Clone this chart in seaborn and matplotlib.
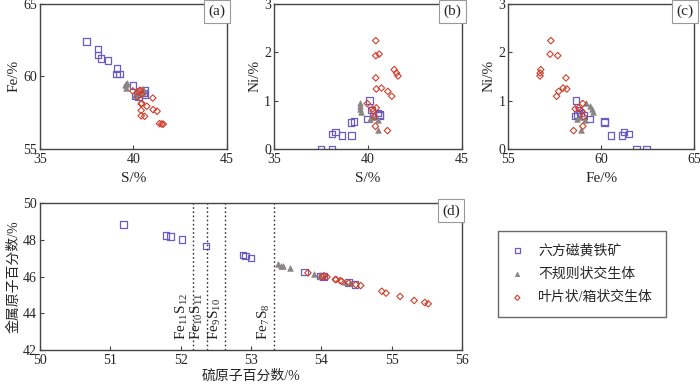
import numpy as np
import pandas as pd
import seaborn as sns
import matplotlib
matplotlib.use('Agg')
import matplotlib.pyplot as plt

sns.set_style('ticks')
plt.rcParams['font.family'] = ['Liberation Serif', 'Noto Sans CJK SC']
plt.rcParams['mathtext.fontset'] = 'custom'
plt.rcParams['mathtext.rm'] = 'Liberation Serif'
plt.rcParams['mathtext.it'] = 'Liberation Serif:italic'
plt.rcParams['axes.unicode_minus'] = False

# ---- weight % data (a, b, c) ----
# hexagonal pyrrhotite
hex_S = [37.50, 38.10, 38.10, 38.28, 38.64, 39.12, 39.10, 39.26, 39.97, 40.10, 40.19, 40.28, 40.54, 40.63, 40.63]
hex_Fe = [62.42, 61.90, 61.48, 61.22, 61.10, 60.53, 60.18, 60.18, 59.37, 58.64, 58.80, 58.60, 58.87, 58.73, 59.05]
hex_Ni = [0.00, 0.00, 0.31, 0.35, 0.28, 0.28, 0.55, 0.57, 0.62, 1.00, 0.81, 0.68, 0.74, 0.71, 0.69]
# irregular intergrowth
irr_S = [39.60, 39.57, 39.60, 39.65, 40.10, 40.28, 40.54, 40.54]
irr_Fe = [59.20, 59.40, 59.50, 59.58, 58.70, 58.87, 59.10, 58.90]
irr_Ni = [0.95, 0.88, 0.83, 0.76, 0.62, 0.66, 0.60, 0.40]
# lamellar / box intergrowth
lam_S = [40.42, 40.60, 40.42, 41.40, 41.52, 41.60, 40.42, 40.72, 40.45, 41.06, 41.27, 39.97, 40.24, 40.45, 40.28, 40.35, 40.40, 41.04]
lam_Fe = [57.29, 57.25, 57.66, 56.75, 56.72, 56.71, 58.10, 57.95, 58.15, 57.71, 57.60, 59.00, 58.60, 58.78, 58.96, 59.05, 59.01, 58.51]
lam_Ni = [2.24, 1.96, 1.93, 1.64, 1.57, 1.51, 1.47, 1.26, 1.24, 1.19, 1.09, 0.94, 0.83, 0.85, 0.78, 0.67, 0.47, 0.38]

# ---- atomic % data (d) ----
hex_Sat = [51.19, 51.79, 51.86, 52.02, 52.36, 52.89, 52.92, 53.00, 53.76, 53.98, 54.01, 54.03, 54.39, 54.48]
hex_Mat = [48.83, 48.23, 48.19, 48.01, 47.66, 47.17, 47.13, 47.02, 46.26, 46.04, 46.02, 46.00, 45.69, 45.56]
irr_Sat = [53.38, 53.43, 53.46, 53.55, 53.89, 53.98, 54.34, 54.41]
irr_Mat = [46.66, 46.60, 46.57, 46.47, 46.16, 46.02, 45.69, 45.65]
lam_Sat = [53.81, 54.01, 54.04, 54.08, 54.20, 54.21, 54.27, 54.29, 54.39, 54.49, 54.56,
           54.86, 54.92, 55.12, 55.32, 55.47, 55.52]
lam_Mat = [46.20, 45.98, 46.04, 45.98, 45.84, 45.84, 45.78, 45.74, 45.65, 45.56, 45.51,
           45.20, 45.10, 44.92, 44.70, 44.59, 44.52]

phase_x = [52.17, 52.38, 52.63, 53.33]
phase_lab = ['Fe$_{11}$S$_{12}$', 'Fe$_{10}$S$_{11}$', 'Fe$_9$S$_{10}$', 'Fe$_7$S$_8$']

names = ['六方磁黄铁矿', '不规则状交生体', '叶片状/箱状交生体']
wt = pd.concat([
    pd.DataFrame({'S': hex_S, 'Fe': hex_Fe, 'Ni': hex_Ni, 'g': names[0]}),
    pd.DataFrame({'S': irr_S, 'Fe': irr_Fe, 'Ni': irr_Ni, 'g': names[1]}),
    pd.DataFrame({'S': lam_S, 'Fe': lam_Fe, 'Ni': lam_Ni, 'g': names[2]}),
])
at = pd.concat([
    pd.DataFrame({'S': hex_Sat, 'M': hex_Mat, 'g': names[0]}),
    pd.DataFrame({'S': irr_Sat, 'M': irr_Mat, 'g': names[1]}),
    pd.DataFrame({'S': lam_Sat, 'M': lam_Mat, 'g': names[2]}),
])

styles = {
    names[0]: dict(marker='s', facecolor='none', edgecolor='#6a5cc0', s=22, linewidth=0.9),
    names[1]: dict(marker='^', color='#8a8484', edgecolor='#8a8484', s=16, linewidth=0.5),
    names[2]: dict(marker='D', facecolor='none', edgecolor='#d0402c', s=11, linewidth=0.8),
}

fig = plt.figure(figsize=(7, 3.86), dpi=100)
ax_a = fig.add_axes([0.057, 0.614, 0.267, 0.376])
ax_b = fig.add_axes([0.391, 0.614, 0.269, 0.376])
ax_c = fig.add_axes([0.726, 0.614, 0.266, 0.376])
ax_d = fig.add_axes([0.057, 0.093, 0.603, 0.381])


def draw(ax, df, x, y):
    for g in names:
        sns.scatterplot(data=df[df.g == g], x=x, y=y, ax=ax, label=g, **styles[g])
    if ax.get_legend() is not None:
        ax.get_legend().remove()


draw(ax_a, wt, 'S', 'Fe')
draw(ax_b, wt, 'S', 'Ni')
draw(ax_c, wt, 'Fe', 'Ni')
draw(ax_d, at, 'S', 'M')

for ax, xl, yl, xlab, ylab in [
        (ax_a, (35, 45), (55, 65), 'S/%', 'Fe/%'),
        (ax_b, (35, 45), (0, 3), 'S/%', 'Ni/%'),
        (ax_c, (55, 65), (0, 3), 'Fe/%', 'Ni/%')]:
    ax.set_xlim(xl)
    ax.set_ylim(yl)
    ax.set_xticks([xl[0], (xl[0] + xl[1]) / 2, xl[1]])
    ax.set_yticks(np.arange(yl[0], yl[1] + 0.1, 5 if yl[1] > 10 else 1))
    ax.set_xlabel(xlab, fontsize=11)
    ax.set_ylabel(ylab, fontsize=11, labelpad=2)

ax_d.set_xlim(50, 56)
ax_d.set_ylim(42, 50)
ax_d.set_xticks(range(50, 57))
ax_d.set_yticks(range(42, 51, 2))
ax_d.set_xlabel('硫原子百分数/%', fontsize=10, labelpad=2)
ax_d.set_ylabel('金属原子百分数/%', fontsize=10, labelpad=2)

for xv, lab in zip(phase_x, phase_lab):
    ax_d.axvline(xv, color='#333333', linestyle=(0, (1.2, 1.8)), linewidth=1.0, zorder=1)
    ax_d.text(xv - 0.03, 42.55, lab, rotation=90, ha='right', va='bottom', fontsize=11)

for ax, tag in zip([ax_a, ax_b, ax_c, ax_d], ['(a)', '(b)', '(c)', '(d)']):
    ax.tick_params(direction='in', length=3, width=0.8, labelsize=10, pad=2, color='#444444')
    ax.tick_params(axis='x', pad=3)
    for sp in ax.spines.values():
        sp.set_color('#444444')
        sp.set_linewidth(1.0)
    ax.text(0.995, 0.993, tag, transform=ax.transAxes, ha='right', va='top', fontsize=11,
            bbox=dict(boxstyle='square,pad=0.3', facecolor='white', edgecolor='#999999', linewidth=0.8))

handles, labels = ax_d.get_legend_handles_labels()
leg = fig.legend(handles, labels, loc='center', bbox_to_anchor=(0.831, 0.290), fontsize=10,
                 frameon=True, fancybox=False, edgecolor='#444444', borderpad=0.9,
                 labelspacing=0.75, handlelength=1.0, handletextpad=1.0, markerscale=0.8)
leg.get_frame().set_linewidth(1.0)

fig.savefig('out.png', dpi=100)
